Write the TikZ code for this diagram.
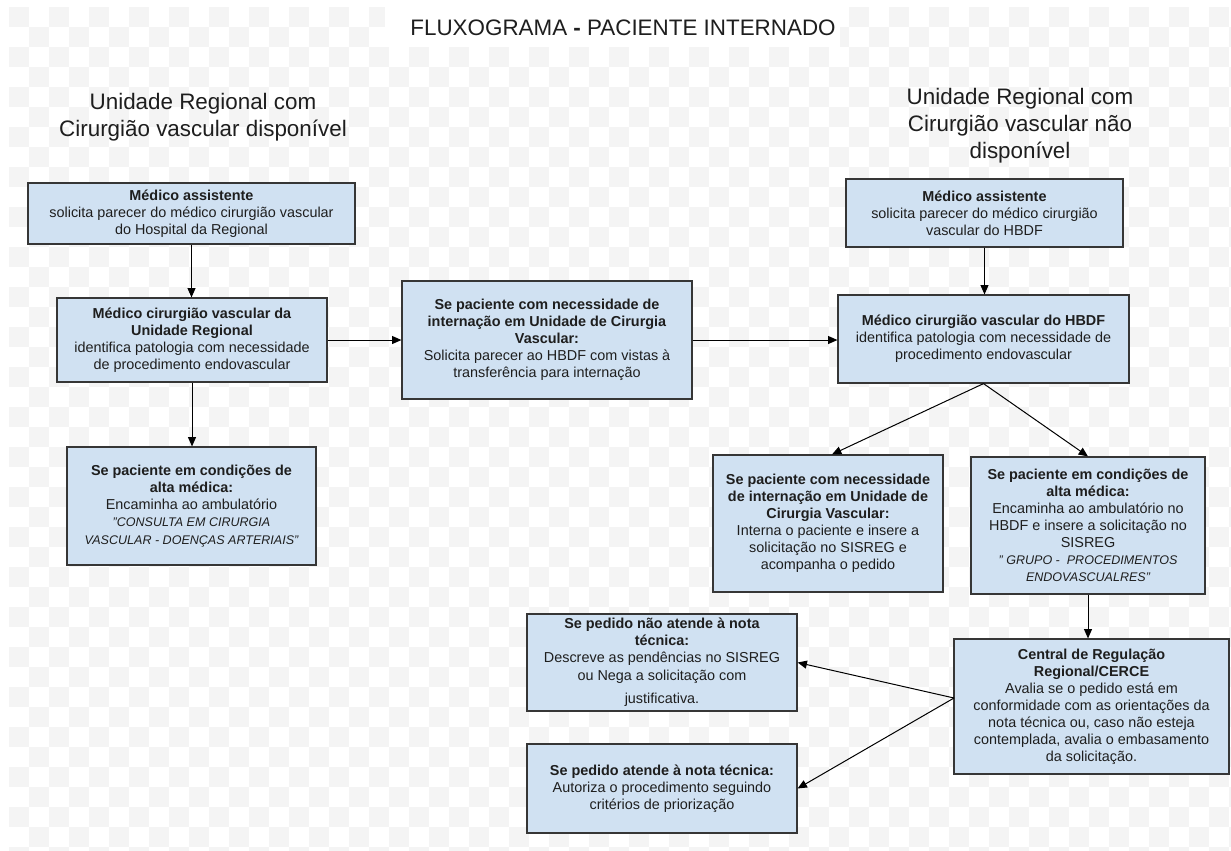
\documentclass[tikz,border=0pt]{standalone}
\usepackage{fontspec}
\setmainfont{Liberation Sans}
\usetikzlibrary{arrows.meta}
\definecolor{boxfill}{HTML}{D0E1F2}
\definecolor{boxdraw}{HTML}{363636}
\definecolor{txt}{HTML}{1E1E1E}
\definecolor{checker}{HTML}{F4F4F4}
\newcommand{\boxfont}{\fontsize{10.8pt}{12.8pt}\selectfont}
\newcommand{\itfont}{\fontsize{9.4pt}{11.6pt}\selectfont\itshape}
\newcommand{\headfont}{\fontsize{16.8pt}{20.4pt}\selectfont}
\begin{document}
\begin{tikzpicture}[x=0.75pt,y=-0.75pt,
  box/.style={draw=boxdraw, fill=boxfill, line width=0.9pt, align=center, inner sep=2pt, text=txt, font=\boxfont},
  heading/.style={align=center, text=txt, font=\headfont, inner sep=0pt},
  arr/.style={draw=black, line width=0.75pt, -{Triangle[length=7pt,width=6pt]}}]
\useasboundingbox (0,0) rectangle (1231,850);
\fill[white] (0,0) rectangle (1231,850);
\begin{scope}
\clip (9,7) rectangle (1231,850);
\foreach \i in {0,...,61}{
  \foreach \j in {0,...,42}{
    \pgfmathparse{int(mod(\i+\j,2))}
    \ifnum\pgfmathresult=0
      \fill[checker] (9+20*\i,7+20*\j) rectangle ++(20,20);
    \fi
  }
}
\end{scope}
\fill[white] (385,7) rectangle (840,47);

% titles
\node[heading] (title) at (623,28) {FLUXOGRAMA \textbf{-} PACIENTE INTERNADO};
\node[heading] (hleft) at (203,117) {Unidade Regional com\\Cirurgião vascular disponível};
\node[heading] (hright) at (1020,126) {Unidade Regional com\\Cirurgião vascular não\\disponível};

% left column
\node[box, minimum width=245.25pt, minimum height=45.75pt] (A1) at (191.5,213.5)
  {\textbf{Médico assistente}\\solicita parecer do médico cirurgião vascular\\do Hospital da Regional};
\node[box, minimum width=202.5pt, minimum height=63pt] (A2) at (192,340)
  {\textbf{Médico cirurgião vascular da}\\\textbf{Unidade Regional}\\identifica patologia com necessidade\\de procedimento endovascular};
\node[box, minimum width=186.75pt, minimum height=88.5pt] (A3) at (191.5,506)
  {\textbf{Se paciente em condições de}\\\textbf{alta médica:}\\Encaminha ao ambulatório\\{\itfont "CONSULTA EM CIRURGIA}\\{\itfont VASCULAR - DOENÇAS ARTERIAIS"}};

% middle
\node[box, minimum width=217.5pt, minimum height=88.5pt] (M) at (547,340)
  {\textbf{Se paciente com necessidade de}\\\textbf{internação em Unidade de Cirurgia}\\\textbf{Vascular:}\\Solicita parecer ao HBDF com vistas à\\transferência para internação};

% right column
\node[box, minimum width=207.75pt, minimum height=51pt] (B1) at (984.5,213)
  {\textbf{Médico assistente}\\solicita parecer do médico cirurgião\\vascular do HBDF};
\node[box, minimum width=218.25pt, minimum height=66pt] (B2) at (983.5,339)
  {\textbf{Médico cirurgião vascular do HBDF}\\identifica patologia com necessidade de\\procedimento endovascular};
\node[box, minimum width=172.5pt, minimum height=102.75pt] (B3) at (828,523.5)
  {\textbf{Se paciente com necessidade}\\\textbf{de internação em Unidade de}\\\textbf{Cirurgia Vascular:}\\Interna o paciente e insere a\\solicitação no SISREG e\\acompanha o pedido};
\node[box, minimum width=175.5pt, minimum height=102.75pt] (B4) at (1088,525.5)
  {\textbf{Se paciente em condições de}\\\textbf{alta médica:}\\Encaminha ao ambulatório no\\HBDF e insere a solicitação no\\SISREG\\{\itfont " GRUPO -\ \ PROCEDIMENTOS}\\{\itfont ENDOVASCUALRES"}};
\node[box, minimum width=206.25pt, minimum height=101.25pt] (C) at (1091.5,706.5)
  {\textbf{Central de Regulação}\\\textbf{Regional/CERCE}\\Avalia se o pedido está em\\conformidade com as orientações da\\nota técnica ou, caso não esteja\\contemplada, avalia o embasamento\\da solicitação.};
\node[box, minimum width=202.5pt, minimum height=72.75pt] (P1) at (662,662.5)
  {\textbf{Se pedido não atende à nota}\\\textbf{técnica:}\\Descreve as pendências no SISREG\\ou Nega a solicitação com\\[5pt]justificativa.};
\node[box, minimum width=202.5pt, minimum height=66.75pt] (P2) at (662,788.5)
  {\textbf{Se pedido atende à nota técnica:}\\Autoriza o procedimento seguindo\\critérios de priorização};

\coordinate (Cw) at (954,698);

% connectors
\draw[arr] (A1.south) -- (A1.south |- A2.north);
\draw[arr] (A2.south) -- (A2.south |- A3.north);
\draw[arr] (A2.east) -- (M.west);
\draw[arr] (M.east) -- (M.east -| B2.west);
\draw[arr] (B1.south) -- (B1.south |- B2.north);
\draw[arr] (B2.south) -- ([xshift=3pt]B3.north);
\draw[arr] (B2.south) -- (B4.north);
\draw[arr] (B4.south) -- (B4.south |- C.north);
\draw[arr] (Cw) -- (P1.east);
\draw[arr] (Cw) -- (P2.east);
\end{tikzpicture}
\end{document}
